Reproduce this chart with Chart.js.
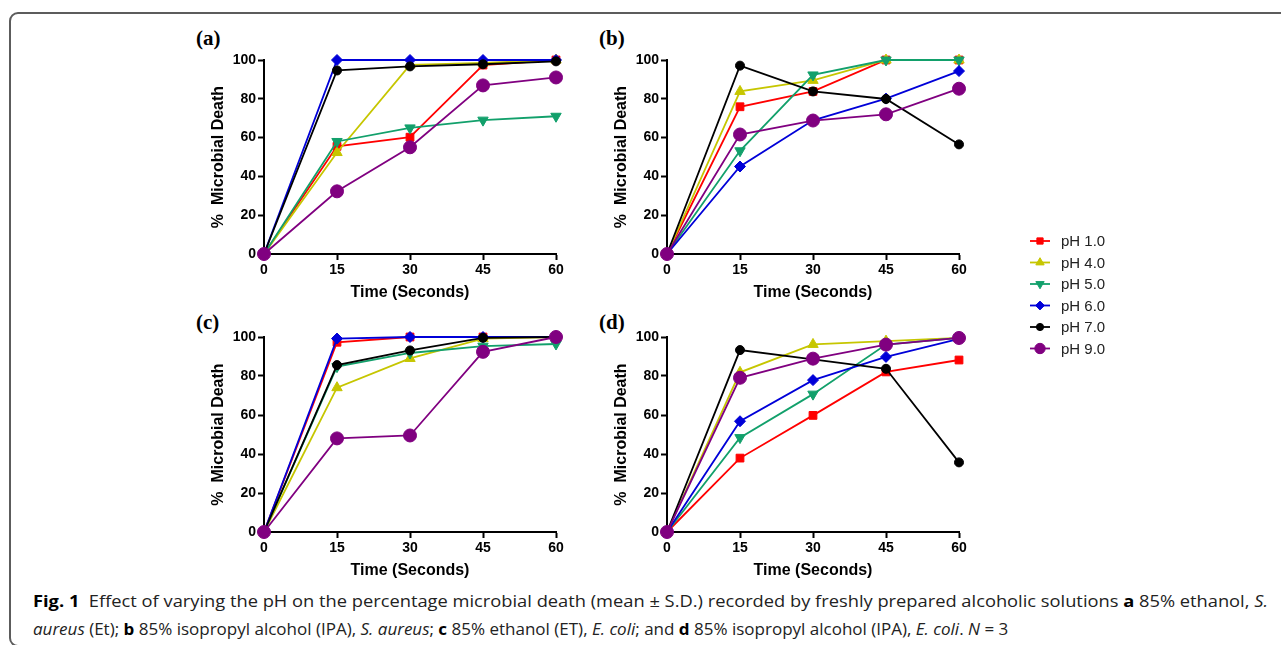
<!DOCTYPE html>
<html>
<head>
<meta charset="utf-8">
<title>Fig. 1 pH vs microbial death</title>
<script src="https://cdn.jsdelivr.net/npm/chart.js@4.4.1/dist/chart.umd.min.js"></script>
<style>
  html, body { margin: 0; padding: 0; background: #fff; }
  body { width: 1281px; height: 645px; position: relative; overflow: hidden; font-family: "Liberation Sans", Arial, sans-serif; }
  .frame { position: absolute; left: 9px; top: 12px; width: 1330px; height: 635px; border: 2px solid #5c5c5c; border-radius: 9px; box-sizing: border-box; }
  canvas.panel { position: absolute; }
  .tag { position: absolute; font-family: "Liberation Serif", "Times New Roman", serif; font-weight: bold; font-size: 21px; line-height: 22px; color: #000; }
  #legend { position: absolute; left: 1020px; top: 228px; }
  .cap { position: absolute; left: 33px; white-space: nowrap; font-family: "Open Sans", "Noto Sans", sans-serif; font-size: 16px; line-height: 20px; color: #222; transform-origin: 0 50%; }
  .cap b { color: #000; }
</style>
</head>
<body>
<div class="frame"></div>

<div class="tag" style="left:196px; top:27px;">(a)</div>
<div class="tag" style="left:599px; top:27px;">(b)</div>
<div class="tag" style="left:196px; top:311px;">(c)</div>
<div class="tag" style="left:599px; top:311px;">(d)</div>

<canvas class="panel" id="chartA" width="380" height="270" style="left:200px; top:40px;"></canvas>
<canvas class="panel" id="chartB" width="380" height="270" style="left:603px; top:40px;"></canvas>
<canvas class="panel" id="chartC" width="380" height="271" style="left:200px; top:317px;"></canvas>
<canvas class="panel" id="chartD" width="380" height="271" style="left:603px; top:317px;"></canvas>

<canvas id="legend" width="130" height="135"></canvas>

<div class="cap" id="cap1" style="top:591px;"><b>Fig. 1</b>&nbsp; Effect of varying the pH on the percentage microbial death (mean ± S.D.) recorded by freshly prepared alcoholic solutions <b>a</b> 85% ethanol, <i>S.</i></div>
<div class="cap" id="cap2" style="top:619px;"><i>aureus</i> (Et); <b>b</b> 85% isopropyl alcohol (IPA), <i>S. aureus</i>; <b>c</b> 85% ethanol (ET), <i>E. coli</i>; and <b>d</b> 85% isopropyl alcohol (IPA), <i>E. coli</i>. <i>N</i> = 3</div>

<script>
// time points (x) and y tick values
const times = [0, 15, 30, 45, 60];
const yTicks = [0, 20, 40, 60, 80, 100];
const phNames = ["pH 1.0", "pH 4.0", "pH 5.0", "pH 6.0", "pH 7.0", "pH 9.0"];

// % microbial death, one row per pH (same order as phNames)
// (a) 85% ethanol, S. aureus
const deathA = [
  [0, 55.5, 60.2, 97.4, 100],
  [0, 52.3, 97.5, 98.5, 100],
  [0, 58.0, 65.0, 69.0, 71.0],
  [0, 100, 100, 100, 100],
  [0, 94.6, 96.7, 97.8, 99.3],
  [0, 32.3, 55.0, 86.9, 91.0]
];
// (b) 85% isopropyl alcohol, S. aureus
const deathB = [
  [0, 75.9, 83.8, 100, 100],
  [0, 83.8, 89.5, 100, 100],
  [0, 53.2, 92.3, 100, 100],
  [0, 45.1, 68.9, 80.1, 94.3],
  [0, 97.1, 83.8, 79.9, 56.5],
  [0, 61.6, 68.8, 72.0, 85.2]
];
// (c) 85% ethanol, E. coli
const deathC = [
  [0, 97.3, 100, 100, 100],
  [0, 74.0, 89.0, 99.2, 100],
  [0, 84.8, 91.8, 95.3, 96.4],
  [0, 99.2, 100, 100, 100],
  [0, 85.6, 93.1, 99.6, 100],
  [0, 48.0, 49.5, 92.4, 100]
];
// (d) 85% isopropyl alcohol, E. coli
const deathD = [
  [0, 37.9, 59.8, 82.1, 88.2],
  [0, 81.9, 96.2, 97.9, 99.6],
  [0, 48.4, 70.7, 96.1, 99.6],
  [0, 56.8, 77.9, 89.8, 99.1],
  [0, 93.3, 88.5, 83.7, 35.7],
  [0, 79.1, 88.9, 96.1, 99.5]
];

// look of each pH series
const colors = ["#ff0000", "#c6c600", "#12a06b", "#0000d8", "#000000", "#800080"];
const markers = ["rect", "triangle", "triangle", "rectRot", "circle", "circle"];
const rotations = [0, 0, 180, 0, 0, 0];
const radii = [5.5, 6, 6, 5.5, 4.5, 6.5];

Chart.defaults.font.family = '"Liberation Sans", Arial, sans-serif';
Chart.defaults.color = "#000";

function axisStyle(title, values, fit) {
  return {
    type: "linear",
    min: values[0],
    max: values[values.length - 1],
    afterBuildTicks: s => { s.ticks = values.map(v => ({ value: v })); },
    afterFit: fit,
    border: { display: true, color: "#000", width: 2 },
    grid: { drawOnChartArea: false, drawTicks: true, tickLength: 6, tickColor: "#000", tickWidth: 2 },
    ticks: { font: { size: 14, weight: "bold" }, color: "#000", padding: 2, maxRotation: 0, autoSkip: false },
    title: { display: true, text: title, font: { size: 16, weight: "bold" }, color: "#000" }
  };
}

function makePanel(id, rows) {
  const x = axisStyle("Time (Seconds)", times, s => { s.height = 56; });
  x.title.padding = { top: 0, bottom: 8 };
  const y = axisStyle("%  Microbial Death", yTicks, s => { s.width = 64; });
  y.title.padding = { top: 9, bottom: 0 };

  return new Chart(document.getElementById(id), {
    type: "line",
    data: {
      datasets: rows.map((vals, i) => ({
        label: phNames[i],
        data: vals.map((v, k) => ({ x: times[k], y: v })),
        borderColor: colors[i],
        backgroundColor: colors[i],
        borderWidth: 1.8,
        pointStyle: markers[i],
        pointRotation: rotations[i],
        pointRadius: radii[i],
        pointBorderWidth: 1,
        tension: 0,
        clip: false,
        order: rows.length - i
      }))
    },
    options: {
      responsive: false,
      animation: false,
      events: [],
      layout: { padding: { top: 20, right: 24, left: 0, bottom: 0 } },
      plugins: { legend: { display: false }, tooltip: { enabled: false } },
      scales: { x: x, y: y }
    }
  });
}

makePanel("chartA", deathA);
makePanel("chartB", deathB);
makePanel("chartC", deathC);
makePanel("chartD", deathD);

// legend: line with marker, then label
const lg = document.getElementById("legend").getContext("2d");
phNames.forEach((name, i) => {
  const yy = 13 + i * 21.5;
  lg.strokeStyle = colors[i];
  lg.fillStyle = colors[i];
  lg.lineWidth = 1.8;
  lg.beginPath();
  lg.moveTo(10, yy);
  lg.lineTo(30, yy);
  lg.stroke();
  lg.lineWidth = 1;
  Chart.helpers.drawPoint(lg, { pointStyle: markers[i], radius: radii[i] * 0.8, rotation: rotations[i], borderWidth: 1 }, 20, yy);
  lg.fillStyle = "#222";
  lg.font = '15px "Liberation Sans", Arial, sans-serif';
  lg.textBaseline = "middle";
  lg.fillText(name, 41, yy + 1);
});

// fit caption width to the figure (second line's font runs a bit narrower)
const c1 = document.getElementById("cap1");
const c2 = document.getElementById("cap2");
const k = 1235 / c1.getBoundingClientRect().width;
c1.style.transform = "scaleX(" + k + ")";
c2.style.transform = "scaleX(" + (k * 0.93) + ")";
</script>
</body>
</html>
